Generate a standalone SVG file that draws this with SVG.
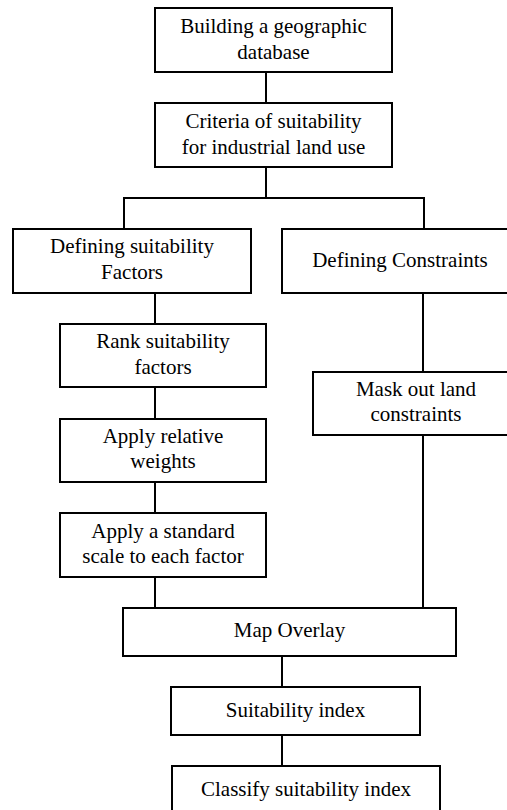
<svg xmlns="http://www.w3.org/2000/svg" width="507" height="810" viewBox="0 0 507 810">
<style>
.box{fill:#fff;stroke:#000;stroke-width:2}
.c{fill:none;stroke:#000;stroke-width:2}
</style>
<rect width="507" height="810" fill="#fff"/>
<g id="connectors">
<path class="c" d="M266,72V103"/>
<path class="c" d="M266,167V198M124,229V198H424V229"/>
<path class="c" d="M155,293V324"/>
<path class="c" d="M155,387V419"/>
<path class="c" d="M155,482V513"/>
<path class="c" d="M155,577V608"/>
<path class="c" d="M423,293V372"/>
<path class="c" d="M423,435V608"/>
<path class="c" d="M282,656V687"/>
<path class="c" d="M282,735V766"/>
</g>
<g font-family="Liberation Serif, serif" font-size="21" text-anchor="middle" fill="#000">
<g id="n1"><rect class="box" x="155" y="8" width="237" height="64"/><text x="273.5" y="33">Building a geographic</text><text x="273.5" y="59">database</text></g>
<g id="n2"><rect class="box" x="155" y="103" width="237" height="64"/><text x="273.5" y="128">Criteria of suitability</text><text x="273.5" y="154">for industrial land use</text></g>
<g id="n3"><rect class="box" x="13" y="229" width="238" height="64"/><text x="132" y="253">Defining suitability</text><text x="132" y="279">Factors</text></g>
<g id="n4"><rect class="box" x="282" y="229" width="237" height="64"/><text x="400" y="267">Defining Constraints</text></g>
<g id="n5"><rect class="box" x="60" y="324" width="206" height="63"/><text x="163" y="348">Rank suitability</text><text x="163" y="374">factors</text></g>
<g id="n6"><rect class="box" x="60" y="419" width="206" height="63"/><text x="163" y="443">Apply relative</text><text x="163" y="468">weights</text></g>
<g id="n7"><rect class="box" x="60" y="513" width="206" height="64"/><text x="163" y="538">Apply a standard</text><text x="163" y="563">scale to each factor</text></g>
<g id="n8"><rect class="box" x="313" y="372" width="206" height="63"/><text x="416" y="396">Mask out land</text><text x="416" y="421">constraints</text></g>
<g id="n9"><rect class="box" x="123" y="608" width="333" height="48"/><text x="289.5" y="637">Map Overlay</text></g>
<g id="n10"><rect class="box" x="171" y="687" width="249" height="48"/><text x="295.5" y="717">Suitability index</text></g>
<g id="n11"><rect class="box" x="172" y="766" width="268" height="48"/><text x="306" y="796">Classify suitability index</text></g>
</g>
</svg>
